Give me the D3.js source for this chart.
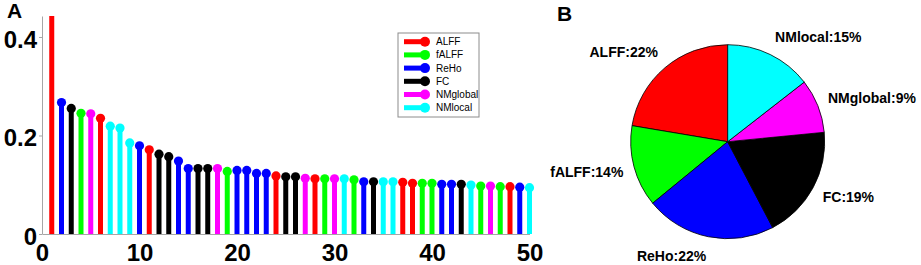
<!DOCTYPE html>
<html>
<head>
<meta charset="utf-8">
<script src="https://cdn.jsdelivr.net/npm/d3@7/dist/d3.min.js"></script>
<style>
  html, body { margin: 0; padding: 0; background: #fff; }
  svg { display: block; font-family: "Liberation Sans", Arial, sans-serif; }
</style>
</head>
<body>
<svg id="chart" width="921" height="265"></svg>
<script>
// ---------- data ----------
const modalities = ["ALFF", "fALFF", "ReHo", "FC", "NMglobal", "NMlocal"];
const modalityColors = ["#ff0000", "#00ff00", "#0000ff", "#000000", "#ff00ff", "#00ffff"];

// Panel A: ranked stems (index 1..50), value and modality index (into modalities)
const stemValues = [
  0.60, 0.267, 0.255, 0.245, 0.244, 0.235, 0.219, 0.215, 0.185, 0.179,
  0.171, 0.162, 0.157, 0.148, 0.133, 0.133, 0.133, 0.133, 0.127, 0.129,
  0.129, 0.123, 0.123, 0.118, 0.116, 0.116, 0.113, 0.112, 0.112, 0.112,
  0.112, 0.110, 0.106, 0.106, 0.106, 0.106, 0.105, 0.103, 0.103, 0.103,
  0.101, 0.101, 0.101, 0.0995, 0.0975, 0.0975, 0.096, 0.096, 0.095, 0.094
];
const stemModality = [
  0, 2, 3, 1, 4, 0, 5, 5, 5, 2,
  0, 3, 3, 2, 2, 3, 3, 4, 1, 2,
  2, 2, 2, 0, 3, 3, 4, 0, 1, 4,
  5, 1, 2, 3, 5, 5, 0, 0, 1, 1,
  2, 2, 3, 5, 1, 4, 1, 0, 2, 5
];
const xTicks = [0, 10, 20, 30, 40, 50];
const yTicks = [0, 0.2, 0.4];
const yTickLabels = ["0", "0.2", "0.4"];

// Panel B: pie shares (percent) in modality order, and displayed labels
const pieShares = [22.4, 13.6, 21.8, 18.9, 9.0, 14.5];
const pieLabels = ["ALFF:22%", "fALFF:14%", "ReHo:22%", "FC:19%", "NMglobal:9%", "NMlocal:15%"];

// ---------- drawing ----------
const svg = d3.select("#chart");
const axisColor = "#a6a6a6";

// Panel A
const plot = { left: 42, right: 529.5, top: 16, bottom: 234 };
const x = d3.scaleLinear().domain([0, 50]).range([plot.left, plot.right]);
const y = d3.scaleLinear().domain([0, 0.4426]).range([plot.bottom, plot.top]);

svg.append("defs").append("clipPath").attr("id", "clipA")
  .append("rect")
  .attr("x", plot.left).attr("y", plot.top)
  .attr("width", plot.right - plot.left + 20)
  .attr("height", plot.bottom - plot.top);

const stemData = stemValues.map((v, i) => ({ idx: i + 1, v, m: stemModality[i] }));
const gStems = svg.append("g").attr("clip-path", "url(#clipA)");
gStems.selectAll("line.stem").data(stemData).join("line")
  .attr("class", "stem")
  .attr("x1", d => x(d.idx)).attr("x2", d => x(d.idx))
  .attr("y1", y(0)).attr("y2", d => y(d.v))
  .attr("stroke", d => modalityColors[d.m])
  .attr("stroke-width", 5);
gStems.selectAll("circle.mk").data(stemData).join("circle")
  .attr("class", "mk")
  .attr("cx", d => x(d.idx)).attr("cy", d => y(d.v))
  .attr("r", 4.6)
  .attr("fill", d => modalityColors[d.m]);

// axes
const xAxis = d3.axisBottom(x).tickValues(xTicks).tickSize(0).tickPadding(10).tickFormat(d3.format("d"));
const gx = svg.append("g").attr("transform", `translate(0,${plot.bottom})`).call(xAxis);
gx.select(".domain").attr("stroke", axisColor).attr("stroke-width", 1);
gx.selectAll("text").attr("font-size", 24).attr("font-weight", "bold").attr("fill", "#000")
  .attr("font-family", "'Liberation Sans', Arial, sans-serif");

const yAxis = d3.axisLeft(y).tickValues(yTicks).tickSize(3).tickSizeOuter(0).tickPadding(2)
  .tickFormat((d, i) => yTickLabels[i]);
const gy = svg.append("g").attr("transform", `translate(${plot.left},0)`).call(yAxis);
gy.select(".domain").attr("stroke", axisColor).attr("stroke-width", 1);
gy.selectAll(".tick line").attr("stroke", axisColor);
gy.selectAll("text").attr("font-size", 24).attr("font-weight", "bold").attr("fill", "#000")
  .attr("dy", "0.42em")
  .attr("font-family", "'Liberation Sans', Arial, sans-serif");

// panel letters
svg.append("text").attr("x", 7).attr("y", 18).text("A")
  .attr("font-size", 21).attr("font-weight", "bold");
svg.append("text").attr("x", 557).attr("y", 21).text("B")
  .attr("font-size", 21).attr("font-weight", "bold");

// legend
const lg = svg.append("g").attr("transform", "translate(398,33)");
lg.append("rect").attr("x", 0).attr("y", 0).attr("width", 81).attr("height", 84)
  .attr("fill", "#fff").attr("stroke", "#8c8c8c").attr("stroke-width", 1);
const rowH = 13.2;
const rows = lg.selectAll("g.row").data(modalities).join("g")
  .attr("class", "row")
  .attr("transform", (d, i) => `translate(0,${8.7 + i * rowH})`);
rows.append("line").attr("x1", 6).attr("x2", 27).attr("y1", 0).attr("y2", 0)
  .attr("stroke", (d, i) => modalityColors[i]).attr("stroke-width", 5);
rows.append("circle").attr("cx", 27).attr("cy", 0).attr("r", 5)
  .attr("fill", (d, i) => modalityColors[i]);
rows.append("text").attr("x", 38).attr("y", 0).attr("dy", "0.35em")
  .attr("font-size", 10).text(d => d);

// Panel B: pie
const cx = 727.7, cy = 141.7, r = 97;
const pie = d3.pie().sort(null).value(d => d).startAngle(0).endAngle(-2 * Math.PI);
const arcs = pie(pieShares);
const arc = d3.arc().innerRadius(0).outerRadius(r);
const gp = svg.append("g").attr("transform", `translate(${cx},${cy})`);
gp.selectAll("path").data(arcs).join("path")
  .attr("d", arc)
  .attr("fill", (d, i) => modalityColors[i])
  .attr("stroke", "#000").attr("stroke-width", 0.8);

const labelR = 108;
gp.selectAll("text.pl").data(arcs).join("text")
  .attr("class", "pl")
  .attr("font-size", 14).attr("font-weight", "bold")
  .attr("text-anchor", d => {
    const a = (d.startAngle + d.endAngle) / 2;
    return Math.sin(a) < 0 ? "end" : "start";
  })
  .attr("x", d => {
    const a = (d.startAngle + d.endAngle) / 2;
    return labelR * Math.sin(a);
  })
  .attr("y", d => {
    const a = (d.startAngle + d.endAngle) / 2;
    return -(labelR + 9) * Math.cos(a) + 5;
  })
  .text((d, i) => pieLabels[i]);
</script>
</body>
</html>
